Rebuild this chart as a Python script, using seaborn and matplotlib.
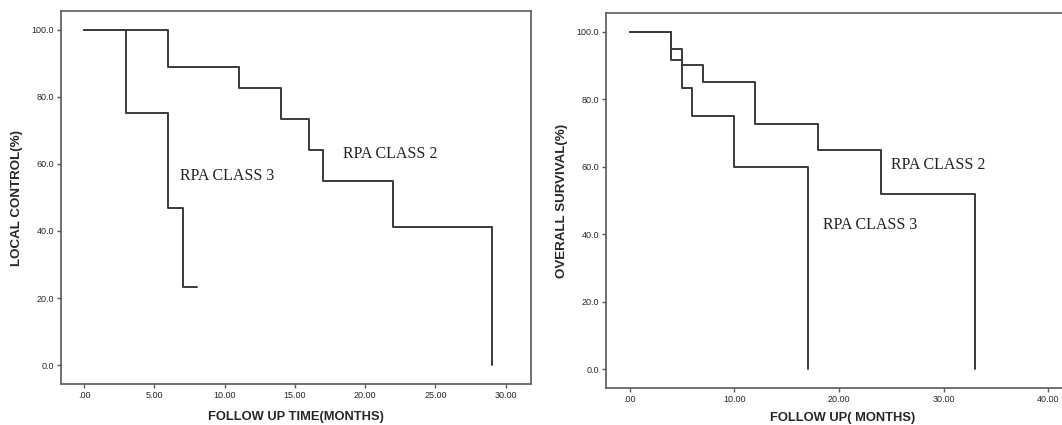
import pandas as pd
import seaborn as sns
import matplotlib.pyplot as plt

# Local control curves (months, %)
lc_class2_time = [0, 6, 11, 14, 16, 17, 22, 29]
lc_class2_surv = [100, 88.8, 82.5, 73.3, 64.2, 55.0, 41.2, 0]
lc_class3_time = [0, 3, 6, 7, 8]
lc_class3_surv = [100, 75.0, 46.8, 23.3, 23.3]

# Overall survival curves (months, %)
os_class2_time = [0, 4, 5, 7, 12, 18, 24, 33]
os_class2_surv = [100, 95.0, 90.0, 85.0, 72.8, 64.8, 51.8, 0]
os_class3_time = [0, 4, 5, 6, 10, 17]
os_class3_surv = [100, 91.7, 83.3, 75.0, 60.0, 0]

lc_xticks = [0, 5, 10, 15, 20, 25, 30]
os_xticks = [0, 10, 20, 30, 40]
yticks = [0, 20, 40, 60, 80, 100]

sns.set_style('ticks')
plt.rcParams['font.family'] = ['Liberation Sans', 'DejaVu Sans']

line_col = '#3a3a3a'
spine_col = '#5a5a5a'


def xfmt(v):
    return '.00' if v == 0 else '%.2f' % v


def draw_km(ax, curves, xticks, xlim, xlabel, ylabel, xpad):
    for t, s in curves:
        df = pd.DataFrame({'time': t, 'surv': s})
        sns.lineplot(data=df, x='time', y='surv', ax=ax, drawstyle='steps-post',
                     estimator=None, color=line_col, linewidth=1.4)
    ax.set_xlim(*xlim)
    ax.set_ylim(-5.6, 105.5)
    ax.set_xticks(xticks)
    ax.set_xticklabels([xfmt(v) for v in xticks])
    ax.set_yticks(yticks)
    ax.set_yticklabels(['%.1f' % v for v in yticks])
    ax.tick_params(labelsize=6.5, length=3, width=1, color=spine_col, pad=2)
    for sp in ax.spines.values():
        sp.set_color(spine_col)
        sp.set_linewidth(1.2)
    ax.set_xlabel(xlabel, fontsize=9.3, fontweight='bold', labelpad=xpad)
    ax.set_ylabel(ylabel, fontsize=9.6, fontweight='bold', labelpad=6)


fig = plt.figure(figsize=(10.62, 4.25), dpi=100)
ax1 = fig.add_axes([0.0574, 0.0965, 0.4426, 0.8775])
ax2 = fig.add_axes([0.5706, 0.087, 0.445, 0.882])

draw_km(ax1, [(lc_class2_time, lc_class2_surv), (lc_class3_time, lc_class3_surv)],
        lc_xticks, (-1.65, 31.8), 'FOLLOW UP TIME(MONTHS)', 'LOCAL CONTROL(%)', 8)
draw_km(ax2, [(os_class2_time, os_class2_surv), (os_class3_time, os_class3_surv)],
        os_xticks, (-2.26, 42.9), 'FOLLOW UP( MONTHS)', 'OVERALL SURVIVAL(%)', 6)

serif = ['Liberation Serif', 'DejaVu Serif']
ax1.text(6.8, 56.5, 'RPA CLASS 3', family=serif, fontsize=11.5, va='center', color='#222222')
ax1.text(18.4, 62.8, 'RPA CLASS 2', family=serif, fontsize=11.5, va='center', color='#222222')
ax2.text(25.0, 60.5, 'RPA CLASS 2', family=serif, fontsize=11.5, va='center', color='#222222')
ax2.text(18.5, 42.7, 'RPA CLASS 3', family=serif, fontsize=11.5, va='center', color='#222222')

plt.savefig('out.png', dpi=100)
